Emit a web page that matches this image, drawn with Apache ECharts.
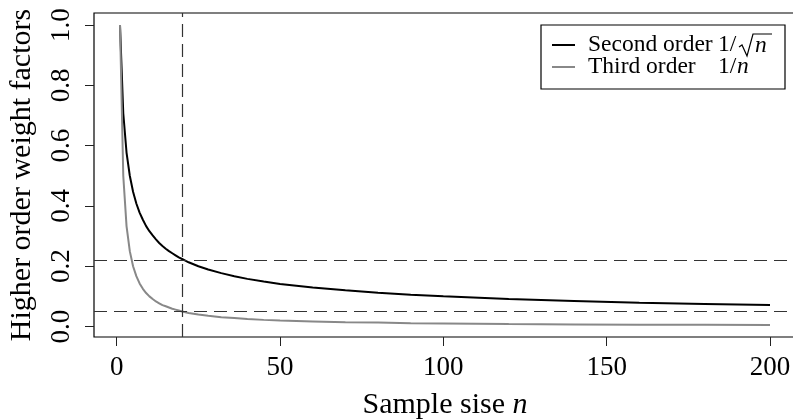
<!DOCTYPE html>
<html>
<head>
<meta charset="utf-8">
<script src="https://cdn.jsdelivr.net/npm/echarts@6/dist/echarts.min.js"></script>
<style>html,body{margin:0;padding:0;background:#fff;}#c{width:793px;height:420px;}</style>
</head>
<body>
<div id="c"></div>
<script>
// Sample sizes n
var sampleN = [1,2,3,4,5,6,7,8,9,10,11,12,13,14,15,16,17,18,19,20,22,25,28,32,36,40,45,50,60,70,80,90,100,120,140,160,180,200];
// Second order weight 1/sqrt(n)
var secondOrder = [1.000,0.707,0.577,0.500,0.447,0.408,0.378,0.354,0.333,0.316,0.302,0.289,0.277,0.267,0.258,0.250,0.243,0.236,0.229,0.224,0.213,0.200,0.189,0.177,0.167,0.158,0.149,0.141,0.129,0.120,0.112,0.105,0.100,0.091,0.085,0.079,0.075,0.071];
// Third order weight 1/n
var thirdOrder = [1.000,0.500,0.333,0.250,0.200,0.167,0.143,0.125,0.111,0.100,0.091,0.083,0.077,0.071,0.067,0.063,0.059,0.056,0.053,0.050,0.045,0.040,0.036,0.031,0.028,0.025,0.022,0.020,0.017,0.014,0.013,0.011,0.010,0.008,0.007,0.006,0.006,0.005];
// Reference lines
var refN = 20;
var refLevels = [0.224, 0.050];
// Tick labels
var xTicks = [0, 50, 100, 150, 200];
var yTicks = [0, 0.2, 0.4, 0.6, 0.8, 1.0];

var FONT = '"Liberation Serif", "Times New Roman", serif';
var LF = '23.5px ' + FONT;
var LFI = 'italic 23.5px ' + FONT;

function pairs(xs, ys) { return xs.map(function (x, i) { return [x, ys[i]]; }); }

var chart = echarts.init(document.getElementById('c'), null, {renderer: 'canvas'});
var dash = {type: [13, 7], color: '#333', width: 1.2};

chart.setOption({
  animation: false,
  backgroundColor: '#fff',
  grid: {
    left: 94, top: 13, width: 702, height: 324,
    show: true, borderColor: '#000', borderWidth: 1.2, backgroundColor: 'transparent',
    containLabel: false, outerBoundsMode: 'none'
  },
  xAxis: {
    type: 'value', min: -6.96, max: 207.96,
    splitLine: {show: false},
    axisLine: {show: false, onZero: false},
    axisTick: {show: true, length: 9, lineStyle: {color: '#222', width: 1}, customValues: xTicks},
    axisLabel: {customValues: xTicks, fontFamily: FONT, fontSize: 27, color: '#000', margin: 17,
      formatter: function (v) { return String(v); }},
    name: 'Sample sise {i|n}',
    nameLocation: 'middle', nameGap: 53,
    nameTextStyle: {fontFamily: FONT, fontSize: 30, color: '#000',
      rich: {i: {fontFamily: FONT, fontSize: 30, fontStyle: 'italic', color: '#000'}}}
  },
  yAxis: {
    type: 'value', min: -0.0348, max: 1.0398,
    splitLine: {show: false},
    axisLine: {show: false, onZero: false},
    axisTick: {show: true, length: 9, lineStyle: {color: '#222', width: 1}, customValues: yTicks},
    axisLabel: {customValues: yTicks, fontFamily: FONT, fontSize: 27, color: '#000', margin: 19, rotate: 90,
      formatter: function (v) { return v.toFixed(1); }},
    name: 'Higher order weight factors',
    nameLocation: 'middle', nameRotate: 90, nameGap: 57,
    nameTextStyle: {fontFamily: FONT, fontSize: 30, color: '#000'}
  },
  series: [
    {
      type: 'line', name: 'Second order', data: pairs(sampleN, secondOrder),
      symbol: 'none', lineStyle: {color: '#000', width: 2}, z: 3,
      markLine: {
        silent: true, symbol: 'none', label: {show: false}, lineStyle: dash,
        data: [{xAxis: refN}, {yAxis: refLevels[0]}, {yAxis: refLevels[1]}]
      }
    },
    {
      type: 'line', name: 'Third order', data: pairs(sampleN, thirdOrder),
      symbol: 'none', lineStyle: {color: '#888', width: 2}, z: 3
    }
  ],
  graphic: [
    {type: 'rect', shape: {x: 541, y: 25, width: 244, height: 64}, style: {fill: '#fff', stroke: '#000', lineWidth: 1.2}, z: 10},
    {type: 'line', shape: {x1: 552, y1: 45, x2: 575, y2: 45}, style: {stroke: '#000', lineWidth: 2}, z: 11},
    {type: 'line', shape: {x1: 552, y1: 67, x2: 575, y2: 67}, style: {stroke: '#888', lineWidth: 2}, z: 11},
    {type: 'text', x: 588, y: 45, style: {text: 'Second order', font: LF, fill: '#000', verticalAlign: 'middle', align: 'left'}, z: 11},
    {type: 'text', x: 718, y: 45, style: {text: '1/', font: LF, fill: '#000', verticalAlign: 'middle', align: 'left'}, z: 11},
    {type: 'polyline', shape: {points: [[739, 47], [742, 45], [747, 56], [753, 34], [772, 34]]}, style: {stroke: '#000', fill: null, lineWidth: 1.2}, z: 11},
    {type: 'text', x: 755, y: 46, style: {text: 'n', font: LFI, fill: '#000', verticalAlign: 'middle', align: 'left'}, z: 11},
    {type: 'text', x: 588, y: 67, style: {text: 'Third order', font: LF, fill: '#000', verticalAlign: 'middle', align: 'left'}, z: 11},
    {type: 'text', x: 718, y: 67, style: {text: '1/', font: LF, fill: '#000', verticalAlign: 'middle', align: 'left'}, z: 11},
    {type: 'text', x: 737, y: 67, style: {text: 'n', font: LFI, fill: '#000', verticalAlign: 'middle', align: 'left'}, z: 11}
  ]
});
</script>
</body>
</html>
